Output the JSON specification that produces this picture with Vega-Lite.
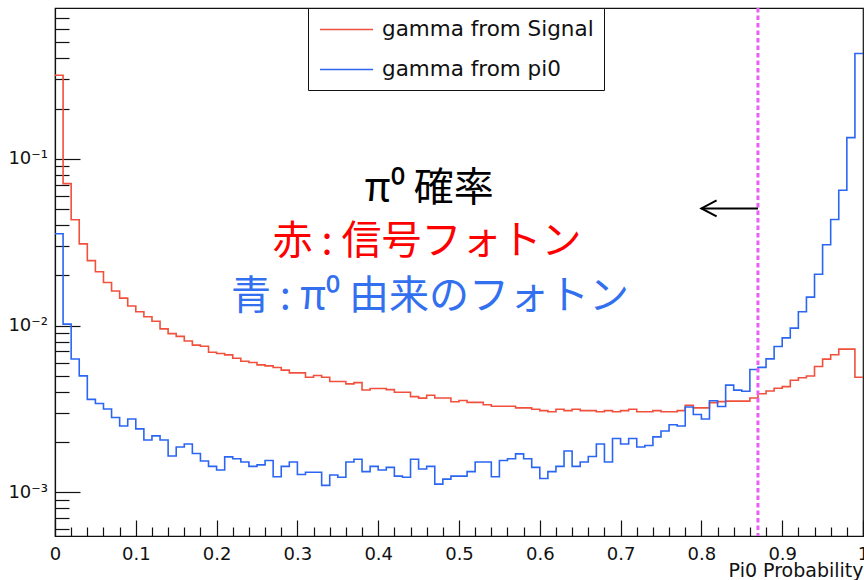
{
  "$schema": "https://vega.github.io/schema/vega-lite/v6.json",
  "width": 808,
  "height": 528,
  "autosize": {"type": "none"},
  "padding": {"left": 55, "top": 8, "right": 1, "bottom": 44},
  "background": "white",
  "config": {
    "font": "DejaVu Sans",
    "view": {"stroke": "#111111", "strokeWidth": 1.2},
    "axis": {"grid": false, "domainColor": "#111111", "domainWidth": 1.2, "tickColor": "#111111", "tickWidth": 1.2, "labelColor": "#111111", "labelFont": "DejaVu Sans", "labelFontSize": 18, "labelOverlap": false}
  },
  "datasets": {
    "hist": [
      {"p":0.00,"sig":0.317,"pi0":0.0355},
      {"p":0.01,"sig":0.0710,"pi0":0.0102},
      {"p":0.02,"sig":0.0431,"pi0":0.00630},
      {"p":0.03,"sig":0.0309,"pi0":0.00499},
      {"p":0.04,"sig":0.0245,"pi0":0.00361},
      {"p":0.05,"sig":0.0210,"pi0":0.00341},
      {"p":0.06,"sig":0.0181,"pi0":0.00316},
      {"p":0.07,"sig":0.0161,"pi0":0.00281},
      {"p":0.08,"sig":0.0146,"pi0":0.00250},
      {"p":0.09,"sig":0.0131,"pi0":0.00275},
      {"p":0.10,"sig":0.0121,"pi0":0.00240},
      {"p":0.11,"sig":0.0113,"pi0":0.00206},
      {"p":0.12,"sig":0.0106,"pi0":0.00218},
      {"p":0.13,"sig":0.00955,"pi0":0.00206},
      {"p":0.14,"sig":0.00894,"pi0":0.00165},
      {"p":0.15,"sig":0.00861,"pi0":0.00187},
      {"p":0.16,"sig":0.00808,"pi0":0.00195},
      {"p":0.17,"sig":0.00763,"pi0":0.00171},
      {"p":0.18,"sig":0.00752,"pi0":0.00154},
      {"p":0.19,"sig":0.00692,"pi0":0.00143},
      {"p":0.20,"sig":0.00680,"pi0":0.00136},
      {"p":0.21,"sig":0.00667,"pi0":0.00163},
      {"p":0.22,"sig":0.00637,"pi0":0.00159},
      {"p":0.23,"sig":0.00611,"pi0":0.00152},
      {"p":0.24,"sig":0.00600,"pi0":0.00143},
      {"p":0.25,"sig":0.00581,"pi0":0.00146},
      {"p":0.26,"sig":0.00573,"pi0":0.00155},
      {"p":0.27,"sig":0.00560,"pi0":0.00124},
      {"p":0.28,"sig":0.00540,"pi0":0.00143},
      {"p":0.29,"sig":0.00520,"pi0":0.00152},
      {"p":0.30,"sig":0.00520,"pi0":0.00128},
      {"p":0.31,"sig":0.00490,"pi0":0.00132},
      {"p":0.32,"sig":0.00502,"pi0":0.00132},
      {"p":0.33,"sig":0.00490,"pi0":0.00110},
      {"p":0.34,"sig":0.00462,"pi0":0.00127},
      {"p":0.35,"sig":0.00462,"pi0":0.00123},
      {"p":0.36,"sig":0.00447,"pi0":0.00152},
      {"p":0.37,"sig":0.00455,"pi0":0.00158},
      {"p":0.38,"sig":0.00411,"pi0":0.00133},
      {"p":0.39,"sig":0.00419,"pi0":0.00143},
      {"p":0.40,"sig":0.00419,"pi0":0.00136},
      {"p":0.41,"sig":0.00413,"pi0":0.00141},
      {"p":0.42,"sig":0.00398,"pi0":0.00125},
      {"p":0.43,"sig":0.00398,"pi0":0.00123},
      {"p":0.44,"sig":0.00375,"pi0":0.00158},
      {"p":0.45,"sig":0.00367,"pi0":0.00138},
      {"p":0.46,"sig":0.00382,"pi0":0.00143},
      {"p":0.47,"sig":0.00368,"pi0":0.00112},
      {"p":0.48,"sig":0.00368,"pi0":0.00120},
      {"p":0.49,"sig":0.00349,"pi0":0.00125},
      {"p":0.50,"sig":0.00355,"pi0":0.00125},
      {"p":0.51,"sig":0.00346,"pi0":0.00133},
      {"p":0.52,"sig":0.00346,"pi0":0.00152},
      {"p":0.53,"sig":0.00335,"pi0":0.00152},
      {"p":0.54,"sig":0.00328,"pi0":0.00124},
      {"p":0.55,"sig":0.00328,"pi0":0.00155},
      {"p":0.56,"sig":0.00328,"pi0":0.00159},
      {"p":0.57,"sig":0.00321,"pi0":0.00170},
      {"p":0.58,"sig":0.00321,"pi0":0.00159},
      {"p":0.59,"sig":0.00315,"pi0":0.00141},
      {"p":0.60,"sig":0.00309,"pi0":0.00121},
      {"p":0.61,"sig":0.00304,"pi0":0.00133},
      {"p":0.62,"sig":0.00315,"pi0":0.00143},
      {"p":0.63,"sig":0.00309,"pi0":0.00177},
      {"p":0.64,"sig":0.00315,"pi0":0.00143},
      {"p":0.65,"sig":0.00309,"pi0":0.00152},
      {"p":0.66,"sig":0.00309,"pi0":0.00164},
      {"p":0.67,"sig":0.00304,"pi0":0.00195},
      {"p":0.68,"sig":0.00309,"pi0":0.00152},
      {"p":0.69,"sig":0.00304,"pi0":0.00210},
      {"p":0.70,"sig":0.00309,"pi0":0.00195},
      {"p":0.71,"sig":0.00315,"pi0":0.00210},
      {"p":0.72,"sig":0.00304,"pi0":0.00187},
      {"p":0.73,"sig":0.00304,"pi0":0.00191},
      {"p":0.74,"sig":0.00309,"pi0":0.00215},
      {"p":0.75,"sig":0.00304,"pi0":0.00233},
      {"p":0.76,"sig":0.00304,"pi0":0.00254},
      {"p":0.77,"sig":0.00309,"pi0":0.00250},
      {"p":0.78,"sig":0.00333,"pi0":0.00325},
      {"p":0.79,"sig":0.00321,"pi0":0.00293},
      {"p":0.80,"sig":0.00321,"pi0":0.00275},
      {"p":0.81,"sig":0.00345,"pi0":0.00354},
      {"p":0.82,"sig":0.00350,"pi0":0.00327},
      {"p":0.83,"sig":0.00352,"pi0":0.00439},
      {"p":0.84,"sig":0.00352,"pi0":0.00410},
      {"p":0.85,"sig":0.00352,"pi0":0.00404},
      {"p":0.86,"sig":0.00368,"pi0":0.00545},
      {"p":0.87,"sig":0.00390,"pi0":0.00561},
      {"p":0.88,"sig":0.00405,"pi0":0.00631},
      {"p":0.89,"sig":0.00421,"pi0":0.00749},
      {"p":0.90,"sig":0.00430,"pi0":0.00844},
      {"p":0.91,"sig":0.00470,"pi0":0.00965},
      {"p":0.92,"sig":0.00486,"pi0":0.0121},
      {"p":0.93,"sig":0.00498,"pi0":0.0148},
      {"p":0.94,"sig":0.00568,"pi0":0.0203},
      {"p":0.95,"sig":0.00629,"pi0":0.0305},
      {"p":0.96,"sig":0.00668,"pi0":0.0432},
      {"p":0.97,"sig":0.00722,"pi0":0.0648},
      {"p":0.98,"sig":0.00722,"pi0":0.134},
      {"p":0.99,"sig":0.00490,"pi0":0.428},
      {"p":1.00,"sig":0.00490,"pi0":0.428}
    ]
  },
  "data": {"name": "hist"},
  "layer": [
    {
      "mark": {"type": "line", "interpolate": "step-after", "strokeWidth": 1.6},
      "encoding": {
        "x": {
          "field": "p", "type": "quantitative",
          "scale": {"domain": [0, 1], "nice": false, "zero": false},
          "axis": {
            "title": "Pi0 Probability", "titleFont": "DejaVu Sans", "titleFontSize": 19, "titleFontWeight": "normal", "titleColor": "#111111",
            "titleAnchor": "end", "titleAlign": "right", "titleBaseline": "alphabetic", "titleX": 808, "titleY": 40,
            "tickCount": 200,
            "values": [0,0.02,0.04,0.06,0.08,0.1,0.12,0.14,0.16,0.18,0.2,0.22,0.24,0.26,0.28,0.3,0.32,0.34,0.36,0.38,0.4,0.42,0.44,0.46,0.48,0.5,0.52,0.54,0.56,0.58,0.6,0.62,0.64,0.66,0.68,0.7,0.72,0.74,0.76,0.78,0.8,0.82,0.84,0.86,0.88,0.9,0.92,0.94,0.96,0.98,1],
            "labelExpr": "abs(datum.value*10 - round(datum.value*10)) < 1e-6 ? (datum.value == 0 ? '0' : (datum.value > 0.999 ? '1' : format(datum.value, '.1f'))) : ''",
            "tickSize": {"condition": {"test": "abs(datum.value*10 - round(datum.value*10)) < 1e-6", "value": -16}, "value": -9},
            "labelPadding": 25, "labelFlush": false, "labelOverlap": false, "labelBound": false
          }
        },
        "y": {
          "field": "sig", "type": "quantitative",
          "scale": {"type": "log", "domain": [0.000547, 0.802], "nice": false},
          "axis": {
            "title": null,
            "tickCount": 200,
            "values": [0.0006,0.0007,0.0008,0.0009,0.001,0.002,0.003,0.004,0.005,0.006,0.007,0.008,0.009,0.01,0.02,0.03,0.04,0.05,0.06,0.07,0.08,0.09,0.1,0.2,0.3,0.4,0.5,0.6,0.7],
            "labelExpr": "datum.value == 0.1 ? '10⁻¹' : (datum.value == 0.01 ? '10⁻²' : (datum.value == 0.001 ? '10⁻³' : ''))",
            "tickSize": {"condition": {"test": "datum.value == 0.1 || datum.value == 0.01 || datum.value == 0.001", "value": -25}, "value": -14},
            "labelPadding": 32.5, "labelFlush": false, "labelOverlap": false, "labelBaseline": "middle"
          }
        },
        "color": {
          "datum": "gamma from Signal", "type": "nominal",
          "scale": {"domain": ["gamma from Signal", "gamma from pi0"], "range": ["#f0503c", "#2a66f2"]},
          "legend": {
            "title": null, "orient": "none", "legendX": 253, "legendY": 0,
            "strokeColor": "#111111", "fillColor": "white", "padding": 10,
            "labelFont": "DejaVu Sans", "labelFontSize": 21.5, "labelColor": "#111111", "labelLimit": 400,
            "symbolType": "M-2.5,0L2.5,0", "symbolSize": 450, "symbolStrokeWidth": 1.5, "symbolOffset": 17, "labelOffset": 24, "rowPadding": 18
          }
        }
      }
    },
    {
      "mark": {"type": "line", "interpolate": "step-after", "strokeWidth": 1.6},
      "encoding": {
        "x": {"field": "p", "type": "quantitative"},
        "y": {"field": "pi0", "type": "quantitative", "axis": {"title": null}},
        "color": {"datum": "gamma from pi0", "type": "nominal"}
      }
    },
    {
      "data": {"values": [{}]},
      "mark": {"type": "rule", "color": "#ea5ef7", "strokeWidth": 3, "strokeDash": [4.5, 3]},
      "encoding": {"x": {"datum": 0.87, "type": "quantitative"}}
    },
    {
      "data": {"values": [{}]},
      "mark": {"type": "rule", "color": "black", "strokeWidth": 2},
      "encoding": {
        "x": {"datum": 0.87, "type": "quantitative"},
        "x2": {"datum": 0.80},
        "y": {"datum": 0.0504, "type": "quantitative"}
      }
    },
    {
      "data": {"values": [{}]},
      "mark": {"type": "point", "shape": "M1.9,-1L0,0L1.9,1", "size": 256, "filled": false, "stroke": "black", "strokeWidth": 2, "opacity": 1},
      "encoding": {
        "x": {"datum": 0.80, "type": "quantitative"},
        "y": {"datum": 0.0504, "type": "quantitative"}
      }
    },
    {
      "data": {"values": [{}]},
      "mark": {"type": "text", "text": "π⁰ 確率", "font": "Noto Sans CJK JP", "fontSize": 40, "color": "black", "align": "center", "baseline": "middle"},
      "encoding": {
        "x": {"datum": 0.463, "type": "quantitative"},
        "y": {"datum": 0.0658, "type": "quantitative"}
      }
    },
    {
      "data": {"values": [{}]},
      "mark": {"type": "text", "text": "赤 : 信号フォトン", "font": "Noto Sans CJK JP", "fontSize": 40, "color": "#fe0000", "align": "center", "baseline": "middle"},
      "encoding": {
        "x": {"datum": 0.4604, "type": "quantitative"},
        "y": {"datum": 0.03164, "type": "quantitative"}
      }
    },
    {
      "data": {"values": [{}]},
      "mark": {"type": "text", "text": "青 : π⁰ 由来のフォトン", "font": "Noto Sans CJK JP", "fontSize": 40, "color": "#3370f0", "align": "center", "baseline": "middle"},
      "encoding": {
        "x": {"datum": 0.4641, "type": "quantitative"},
        "y": {"datum": 0.01491, "type": "quantitative"}
      }
    }
  ]
}
